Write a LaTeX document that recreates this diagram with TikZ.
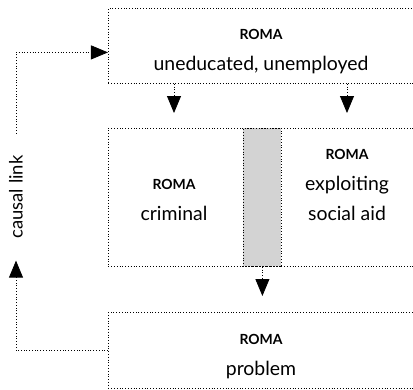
\documentclass[tikz,border=0pt]{standalone}
\usepackage{fontspec}
\setmainfont{Lato}
\usetikzlibrary{calc, positioning, arrows.meta}
\definecolor{barGray}{RGB}{211, 211, 211}
\newcommand{\roma}{{\fontsize{14}{16}\selectfont\bfseries ROMA}}

\begin{document}
\begin{tikzpicture}[x=1bp, y=-1bp, font=\fontsize{19.5}{31}\selectfont,
    box/.style={draw, dotted, line width=0.8pt, anchor=north west,
                minimum width=308bp, inner sep=0pt},
    arr/.style={dotted, line width=0.8pt, -{Triangle[width=14bp, length=17bp]}}]
  \useasboundingbox (0,0) rectangle (413,390);
  \clip (0,0) rectangle (413,390);

  % boxes
  \node[box, minimum height=75bp] (top) at (108,8) {};
  \node[draw, dotted, line width=0.8pt, fill=barGray, anchor=north west,
        minimum width=38bp, minimum height=138bp, inner sep=0pt] (bar) at (243,128) {};
  \node[box, minimum height=138bp] (mid) at (108,128) {};
  \node[box, minimum height=76bp] (bottom) at (108,312) {};

  % texts
  \node[align=center] (educ) at (261,51.5) {\roma\\uneducated, unemployed};
  \node[align=center] (crim) at (174,200) {\roma\\criminal};
  \node[align=center] (aid) at (347,185) {\roma\\exploiting\\social aid};
  \node[align=center] (prob) at (261,356.5) {\roma\\problem};

  % causal loop
  \node[rotate=90, inner xsep=22bp, inner ysep=0pt, font=\fontsize{18.5}{22}\selectfont]
    (link) at (16,197) {causal link};
  \draw[arr] (link.east) |- ([yshift=-6.5bp]top.west);
  \draw[arr] (bottom.west) -| (link.west);

  % arrows between boxes
  \draw[arr, shorten >=15bp] (top.south -| crim) -- (mid.north -| crim);
  \draw[arr, shorten >=15bp] (top.south -| aid) -- (mid.north -| aid);
  \draw[arr, shorten >=16bp] (bar.south) -- (bottom.north -| bar);
\end{tikzpicture}
\end{document}
